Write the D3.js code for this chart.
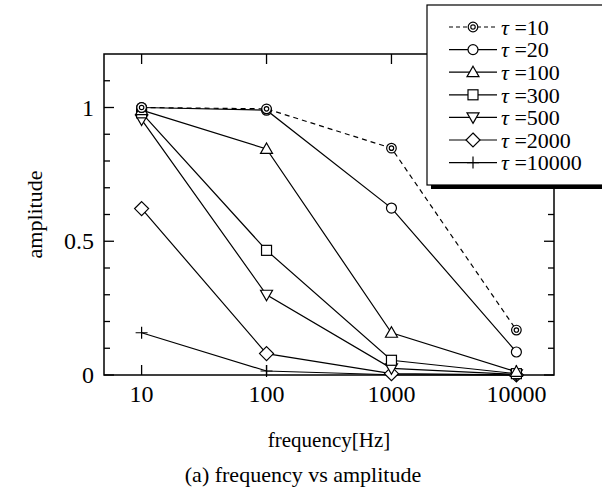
<!DOCTYPE html>
<html>
<head>
<meta charset="utf-8">
<script src="https://cdn.jsdelivr.net/npm/d3@7"></script>
<style>
  body { margin: 0; background: #fff; }
  text { font-family: "Liberation Serif", "DejaVu Serif", serif; fill: #000; }
</style>
</head>
<body>
<div id="chart"></div>
<script>
// frequencies on the x axis
var freqs = [10, 100, 1000, 10000];

// amplitude for each tau, one value per frequency
var tau10    = [1.0, 0.995, 0.848, 0.168];
var tau20    = [1.0, 0.99, 0.624, 0.086];
var tau100   = [0.99, 0.845, 0.158, 0.012];
var tau300   = [0.98, 0.466, 0.055, 0.005];
var tau500   = [0.955, 0.30, 0.025, 0.002];
var tau2000  = [0.622, 0.08, 0.005, 0.0];
var tau10000 = [0.158, 0.015, 0.001, 0.0];

var seriesNames = ["10", "20", "100", "300", "500", "2000", "10000"];
var seriesValues = [tau10, tau20, tau100, tau300, tau500, tau2000, tau10000];
var seriesMarkers = ["dcircle", "circle", "triangle", "square", "tridown", "diamond", "plus"];

var yTicksMajor = [0, 0.5, 1];
var yTickLabels = ["0", "0.5", "1"];

var W = 602, H = 489;
var margin = { left: 104, right: 48, top: 54, bottom: 114 };

var svg = d3.select("#chart").append("svg")
    .attr("width", W)
    .attr("height", H);

var x = d3.scaleLog()
    .domain([5, 20000])
    .range([margin.left, W - margin.right]);

var y = d3.scaleLinear()
    .domain([0, 1.2])
    .range([H - margin.bottom, margin.top]);

var x0 = x.range()[0], x1 = x.range()[1];
var y0 = y.range()[0], y1 = y.range()[1];

// ticks: major with labels, minor every 0.1
var yMinor = d3.range(0, 12).map(function(i) { return i / 10; })
    .filter(function(v) { return yTicksMajor.indexOf(v) < 0 && Math.abs(v - 0.5) > 1e-9; });

var axes = svg.append("g").attr("stroke", "#000").attr("stroke-width", 1.3);

yTicksMajor.forEach(function(v) {
    axes.append("line").attr("x1", x0).attr("x2", x0 + 10).attr("y1", y(v)).attr("y2", y(v));
    axes.append("line").attr("x1", x1).attr("x2", x1 - 10).attr("y1", y(v)).attr("y2", y(v));
});
yMinor.forEach(function(v) {
    axes.append("line").attr("x1", x0).attr("x2", x0 + 6).attr("y1", y(v)).attr("y2", y(v));
    axes.append("line").attr("x1", x1).attr("x2", x1 - 6).attr("y1", y(v)).attr("y2", y(v));
});
freqs.forEach(function(f) {
    axes.append("line").attr("x1", x(f)).attr("x2", x(f)).attr("y1", y0).attr("y2", y0 - 10);
    axes.append("line").attr("x1", x(f)).attr("x2", x(f)).attr("y1", y1).attr("y2", y1 + 10);
});

// plot frame
svg.append("rect")
    .attr("x", x0).attr("y", y1)
    .attr("width", x1 - x0).attr("height", y0 - y1)
    .attr("fill", "none").attr("stroke", "#000").attr("stroke-width", 1.5);

// tick labels
svg.selectAll("text.ylab").data(yTicksMajor).enter().append("text")
    .attr("class", "ylab")
    .attr("x", x0 - 10)
    .attr("y", function(d) { return y(d); })
    .attr("dy", "0.34em")
    .attr("text-anchor", "end")
    .attr("font-size", 24)
    .text(function(d, i) { return yTickLabels[i]; });

svg.selectAll("text.xlab").data(freqs).enter().append("text")
    .attr("class", "xlab")
    .attr("x", function(d) { return x(d); })
    .attr("y", y0 + 27)
    .attr("text-anchor", "middle")
    .attr("font-size", 24)
    .text(function(d) { return d; });

// axis titles
svg.append("text")
    .attr("x", (x0 + x1) / 2)
    .attr("y", 447)
    .attr("text-anchor", "middle")
    .attr("font-size", 21)
    .text("frequency[Hz]");

svg.append("text")
    .attr("transform", "translate(42," + ((y0 + y1) / 2) + ") rotate(-90)")
    .attr("text-anchor", "middle")
    .attr("font-size", 22)
    .text("amplitude");

svg.append("text")
    .attr("x", 303)
    .attr("y", 482)
    .attr("text-anchor", "middle")
    .attr("font-size", 22)
    .text("(a) frequency vs amplitude");

// marker drawing
function drawMarker(g, type, cx, cy) {
    var m = g.append("g").attr("transform", "translate(" + cx + "," + cy + ")")
        .attr("fill", "#fff").attr("stroke", "#000").attr("stroke-width", 1.2);
    if (type === "dcircle") {
        m.append("circle").attr("r", 4.8);
        m.append("circle").attr("r", 2.2);
    } else if (type === "circle") {
        m.append("circle").attr("r", 5);
    } else if (type === "triangle") {
        m.append("path").attr("d", "M0,-6L6,4.5L-6,4.5Z");
    } else if (type === "tridown") {
        m.append("path").attr("d", "M0,6L6,-4.5L-6,-4.5Z");
    } else if (type === "square") {
        m.append("rect").attr("x", -5).attr("y", -5).attr("width", 10).attr("height", 10);
    } else if (type === "diamond") {
        m.append("path").attr("d", "M0,-7L7,0L0,7L-7,0Z");
    } else if (type === "plus") {
        m.append("path").attr("d", "M-6,0H6M0,-6V6").attr("fill", "none");
    }
}

var line = d3.line()
    .x(function(d) { return x(d[0]); })
    .y(function(d) { return y(d[1]); });

var plot = svg.append("g");

seriesValues.forEach(function(vals, si) {
    var pts = freqs.map(function(f, i) { return [f, vals[i]]; });
    plot.append("path")
        .attr("d", line(pts))
        .attr("fill", "none")
        .attr("stroke", "#000")
        .attr("stroke-width", 1.2)
        .attr("stroke-dasharray", si === 0 ? "5,4" : null);
});
seriesValues.slice().reverse().forEach(function(vals, ri) {
    var si = seriesValues.length - 1 - ri;
    freqs.forEach(function(f, i) {
        drawMarker(plot, seriesMarkers[si], x(f), y(vals[i]));
    });
});

// legend with drop shadow
var lg = svg.append("g");
lg.append("rect")
    .attr("x", 431).attr("y", 9)
    .attr("width", 200).attr("height", 180)
    .attr("fill", "#000");
lg.append("rect")
    .attr("x", 427).attr("y", 5)
    .attr("width", 200).attr("height", 180)
    .attr("fill", "#fff").attr("stroke", "#000").attr("stroke-width", 1.2);

seriesNames.forEach(function(name, i) {
    var ly = 27 + i * 22.6;
    lg.append("line")
        .attr("x1", 449).attr("x2", 497)
        .attr("y1", ly).attr("y2", ly)
        .attr("stroke", "#000").attr("stroke-width", 1.2)
        .attr("stroke-dasharray", i === 0 ? "4,3" : null);
    drawMarker(lg, seriesMarkers[i], 473, ly);
    var t = lg.append("text")
        .attr("x", 501)
        .attr("y", ly)
        .attr("dy", "0.35em")
        .attr("font-size", 22);
    t.append("tspan").attr("font-style", "italic").text("\u03c4");
    t.append("tspan").text(" =" + name);
});
</script>
</body>
</html>
